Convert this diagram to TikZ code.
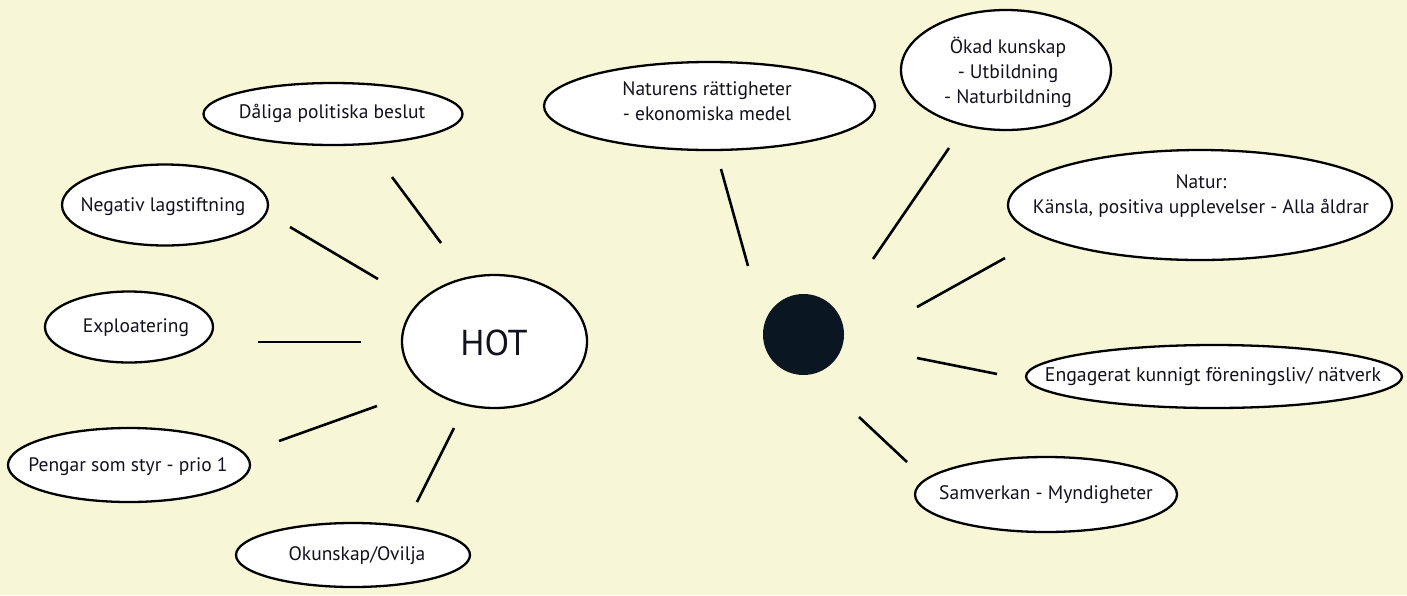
\documentclass[tikz,border=0pt]{standalone}
\usepackage{fontspec}
\setmainfont{PT Sans}
\usetikzlibrary{shapes.geometric}
\definecolor{bg}{RGB}{247,247,216}
\definecolor{dotc}{RGB}{10,22,34}
\definecolor{ink}{RGB}{18,18,28}
\begin{document}
\begin{tikzpicture}[x=1pt,y=-1pt,
  bubble/.style={ellipse, draw=black, line width=2.3pt, fill=white, inner sep=0pt},
  txt/.style={inner sep=0pt, text=ink, align=center, font=\fontsize{19.5}{25}\selectfont},
  spoke/.style={line width=2.6pt, draw=black}]
\fill[bg] (0,0) rectangle (1407,595);
\useasboundingbox (0,0) rectangle (1407,595);

% left cluster
\node[bubble, minimum width=185pt, minimum height=133pt] (hot) at (494.5,341.5) {};
\node[txt, font=\fontsize{36}{40}\selectfont] (hott) at (494,343) {HOT};

\node[bubble, minimum width=259pt, minimum height=62pt] (dal) at (333,114) {};
\node[txt] (dalt) at (332,113) {Dåliga politiska beslut};
\node[bubble, minimum width=206pt, minimum height=81pt] (neg) at (165,205) {};
\node[txt] (negt) at (163,207) {Negativ lagstiftning};
\node[bubble, minimum width=168pt, minimum height=71pt] (exp) at (129,327) {};
\node[txt] (expt) at (136,328) {Exploatering};
\node[bubble, minimum width=242pt, minimum height=74pt] (pen) at (129,465) {};
\node[txt] (pent) at (128,467) {Pengar som styr - prio 1};
\node[bubble, minimum width=234pt, minimum height=64pt] (oku) at (353,555) {};
\node[txt] (okut) at (357,556) {Okunskap/Ovilja};

\coordinate (l1a) at (392,177); \coordinate (l1b) at (441,243);
\coordinate (l2a) at (290,227); \coordinate (l2b) at (378,279);
\coordinate (l3a) at (258,342); \coordinate (l3b) at (361,342);
\coordinate (l4a) at (279,441); \coordinate (l4b) at (377,406);
\coordinate (l5a) at (417,502); \coordinate (l5b) at (454,428);
\draw[spoke] (l1a) -- (l1b);
\draw[spoke] (l2a) -- (l2b);
\draw[spoke] (l3a) -- (l3b);
\draw[spoke] (l4a) -- (l4b);
\draw[spoke] (l5a) -- (l5b);

% right cluster
\node[circle, fill=dotc, draw=none, minimum size=81pt, inner sep=0pt] (dot) at (803.5,334.5) {};

\node[bubble, minimum width=331pt, minimum height=88pt] (nat) at (709.5,106) {};
\node[txt] (natt) at (707,101) {Naturens rättigheter\\- ekonomiska medel};
\node[bubble, minimum width=210pt, minimum height=120pt] (oka) at (1006,70) {};
\node[txt] (okat) at (1008,72) {Ökad kunskap\\- Utbildning\\- Naturbildning};
\node[bubble, minimum width=384pt, minimum height=110pt] (natur) at (1200,205) {};
\node[txt] (naturt) at (1201,196) {Natur:\\Känsla, positiva upplevelser - Alla åldrar};
\node[bubble, minimum width=376pt, minimum height=63pt] (eng) at (1214,376.5) {};
\node[txt, font=\fontsize{19.8}{25}\selectfont] (engt) at (1213,377) {Engagerat kunnigt föreningsliv/ nätverk};
\node[bubble, minimum width=262pt, minimum height=75pt] (sam) at (1046,494.5) {};
\node[txt] (samt) at (1046,495) {Samverkan - Myndigheter};

\coordinate (r1a) at (721,169); \coordinate (r1b) at (748,266);
\coordinate (r2a) at (949,148); \coordinate (r2b) at (873,259);
\coordinate (r3a) at (1005,258); \coordinate (r3b) at (917,307);
\coordinate (r4a) at (997,374); \coordinate (r4b) at (917,358);
\coordinate (r5a) at (907,462); \coordinate (r5b) at (859,417);
\draw[spoke] (r1a) -- (r1b);
\draw[spoke] (r2a) -- (r2b);
\draw[spoke] (r3a) -- (r3b);
\draw[spoke] (r4a) -- (r4b);
\draw[spoke] (r5a) -- (r5b);
\end{tikzpicture}
\end{document}
